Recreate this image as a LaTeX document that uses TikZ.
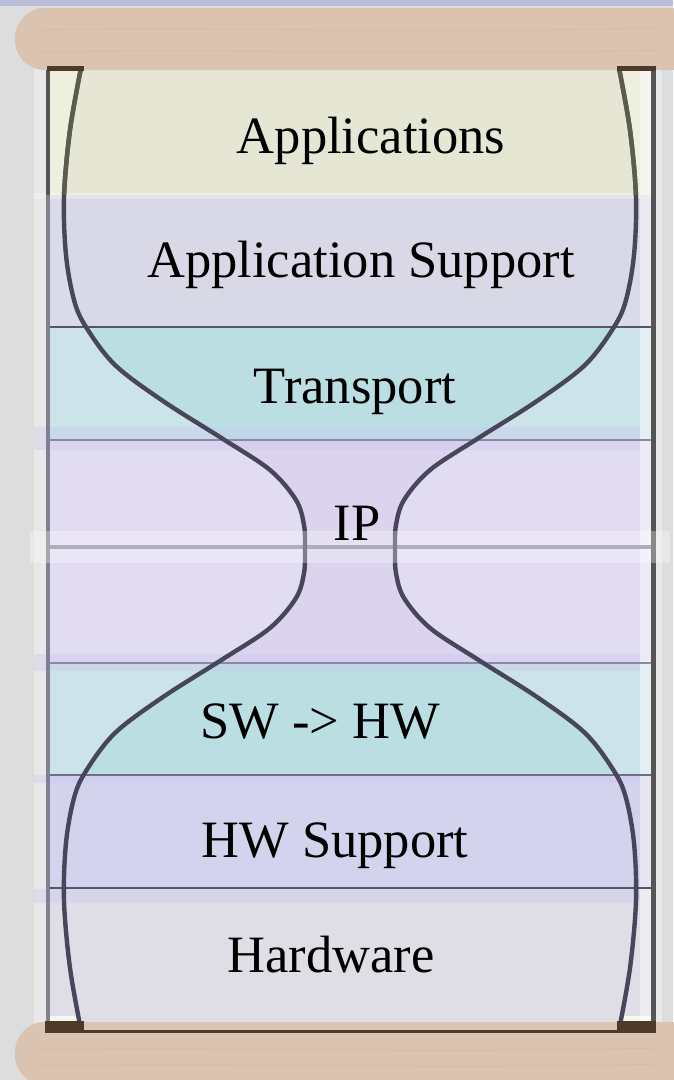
\documentclass[tikz,border=0pt]{standalone}
\usepackage{fontspec}
\setmainfont{Liberation Serif}
\definecolor{bgc}{HTML}{DDDDDD}
\definecolor{topstrip}{HTML}{B9BDD8}
\definecolor{wood}{HTML}{DAC3B1}
\definecolor{woodline}{HTML}{C9B09C}
\definecolor{capc}{HTML}{4E3A2A}
\definecolor{appout}{HTML}{EEF0DF}
\definecolor{appin}{HTML}{E6E6D5}
\definecolor{supout}{HTML}{DADAE8}
\definecolor{supin}{HTML}{D8D8E6}
\definecolor{trout}{HTML}{CCE3EA}
\definecolor{trin}{HTML}{BBDEE3}
\definecolor{ipout}{HTML}{E1DCF2}
\definecolor{ipin}{HTML}{DCD3EE}
\definecolor{hwsup}{HTML}{D4D3EE}
\definecolor{hwc}{HTML}{DFDEE6}
\definecolor{curvec}{HTML}{47465A}
\definecolor{curvetop}{HTML}{5C5C4C}
\definecolor{linedark}{HTML}{55566A}
\definecolor{linelight}{HTML}{8A8AA2}
\definecolor{hazec}{HTML}{C8C6F2}
\definecolor{framec}{HTML}{80808E}
\definecolor{framedark}{HTML}{555555}
\def\leftside{plot[smooth,tension=0.55] coordinates {(81,68) (70,130) (64,197) (66,255) (74,300) (86,327) (115,365) (163,401) (223,439) (270,470) (296,500) (304,525) (305,549) (304,573) (296,598) (270,628) (223,659) (163,697) (115,733) (86,771) (74,798) (66,843) (64,901) (70,968) (81,1030)}}
\def\rightside{plot[smooth,tension=0.55] coordinates {(619,1030) (630,968) (636,901) (634,843) (626,798) (614,771) (585,733) (537,697) (477,659) (430,628) (404,598) (396,573) (395,549) (396,525) (404,500) (430,470) (477,439) (537,401) (585,365) (614,327) (626,300) (634,255) (636,197) (630,130) (619,68)}}
\def\hgclosed{plot[smooth,tension=0.55] coordinates {(81,68) (70,130) (64,197) (66,255) (74,300) (86,327) (115,365) (163,401) (223,439) (270,470) (296,500) (304,525) (305,549) (304,573) (296,598) (270,628) (223,659) (163,697) (115,733) (86,771) (74,798) (66,843) (64,901) (70,968) (81,1030)} -- plot[smooth,tension=0.55] coordinates {(619,1030) (630,968) (636,901) (634,843) (626,798) (614,771) (585,733) (537,697) (477,659) (430,628) (404,598) (396,573) (395,549) (396,525) (404,500) (430,470) (477,439) (537,401) (585,365) (614,327) (626,300) (634,255) (636,197) (630,130) (619,68)} -- cycle}
\begin{document}
\begin{tikzpicture}[x=1pt,y=-1pt,
  lbl/.style={anchor=base,inner sep=0pt,font=\fontsize{52.5}{60}\selectfont,text=black},
  bandline/.style={draw=linedark,line width=2.6pt},
  bandlight/.style={draw=linelight,line width=2.6pt},
  haze/.style={fill=hazec,fill opacity=0.35},
  hg/.style={draw=curvec,line width=4.4pt},
  woodbar/.style={fill=wood,rounded corners=30pt},
  grain/.style={draw=woodline,line width=1pt,opacity=0.3}]
\useasboundingbox (0,0) rectangle (673,1080);
% background
\fill[bgc] (0,0) rectangle (673,1080);
\fill[topstrip] (0,0) rectangle (673,6);
% side pale strips
\fill[white,opacity=0.35] (34,52) rectangle (47,1070);
\fill[white,opacity=0.35] (656,52) rectangle (662,1070);
% bands (outside colours)
\fill[appout] (47,70) rectangle (653,195);
\fill[supout] (47,195) rectangle (653,327);
\fill[trout] (47,327) rectangle (653,440);
\fill[ipout] (47,440) rectangle (653,663);
\fill[trout] (47,663) rectangle (653,775);
\fill[hwsup] (47,775) rectangle (653,888);
\fill[hwc] (47,888) rectangle (653,1022);
\fill[appout!60!white] (47,1016) rectangle (653,1022);
% inside hourglass
\begin{scope}
  \clip \hgclosed;
  \fill[appin] (47,60) rectangle (653,195);
  \fill[supin] (47,195) rectangle (653,327);
  \fill[trin] (47,327) rectangle (653,440);
  \fill[ipin] (47,440) rectangle (653,663);
  \fill[trin] (47,663) rectangle (653,775);
  \fill[hwsup] (47,775) rectangle (653,888);
  \fill[hwc] (47,888) rectangle (653,1022);
\end{scope}
% right pale strip inside frame
\fill[white,opacity=0.45] (640,70) rectangle (651,1022);
% haze strips
\fill[haze] (34,427) rectangle (640,450);
\fill[haze] (34,654) rectangle (640,671);
\fill[haze] (34,775) rectangle (640,783);
\fill[haze] (34,889) rectangle (640,903);
\fill[white,opacity=0.3] (34,193) rectangle (640,199);
% band lines
\draw[bandline] (47,327) -- (653,327);
\draw[bandlight] (47,440) -- (653,440);
\draw[draw=linelight,line width=4.5pt] (47,547) -- (653,547);
\draw[bandlight] (47,663) -- (653,663);
\draw[draw=linedark!85!white,line width=2.6pt] (47,775) -- (653,775);
\draw[bandline] (47,888) -- (653,888);
% hourglass outline
\draw[hg] \leftside;
\draw[hg] \rightside;
\begin{scope}
  \clip (0,60) rectangle (673,194);
  \draw[hg,draw=curvetop] \leftside;
  \draw[hg,draw=curvetop] \rightside;
\end{scope}
% frame
\draw[draw=framec,line width=4pt] (47.5,68) -- (47.5,1031);
\draw[draw=framedark,line width=4pt] (47.5,68) -- (47.5,195);
\draw[draw=framedark,line width=5pt] (653.5,68) -- (653.5,1031);
% IP white band
\fill[white,opacity=0.3] (30,531) rectangle (670,563);
% wooden bars
\fill[woodbar] (15,8) rectangle (700,70);
\fill[woodbar] (15,1022) rectangle (700,1085);
\draw[grain] (40,30) .. controls (200,26) and (400,34) .. (660,28);
\draw[grain] (40,52) .. controls (250,48) and (420,56) .. (660,50);
\draw[grain] (40,1050) .. controls (200,1046) and (400,1054) .. (660,1048);
\draw[grain] (40,1066) .. controls (250,1062) and (420,1070) .. (660,1064);
% caps and bottom line
\fill[capc] (47,66) rectangle (84,71);
\fill[capc] (617,66) rectangle (656,71);
\fill[capc] (45,1021) rectangle (84,1032);
\fill[capc] (617,1021) rectangle (656,1032);
\draw[draw=capc,line width=3pt] (45,1031) -- (656,1031);
% labels
\node[lbl] (apps) at (371,153) {Applications};
\node[lbl] (appsup) at (361,277) {Application Support};
\node[lbl] (trans) at (355,403) {Transport};
\node[lbl] (ip) at (357,540) {IP};
\node[lbl] (swhw) at (320,738) {SW -> HW};
\node[lbl] (hwsupl) at (335,857) {HW Support};
\node[lbl] (hw) at (331,972) {Hardware};
\end{tikzpicture}
\end{document}
